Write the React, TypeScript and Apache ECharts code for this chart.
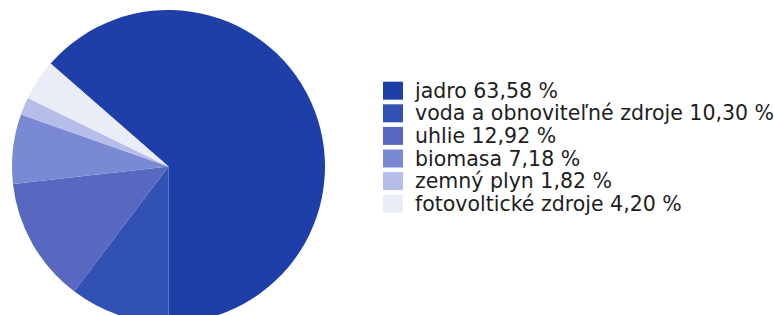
import React, { useEffect, useRef } from "react";
import * as echarts from "echarts";

const categories = [
  "jadro",
  "voda a obnoviteľné zdroje",
  "uhlie",
  "biomasa",
  "zemný plyn",
  "fotovoltické zdroje",
];
const shares = [63.58, 10.3, 12.92, 7.18, 1.82, 4.2];
const colors = ["#1e3fa8", "#3151b4", "#5867c0", "#7a89d4", "#b5bde9", "#eaecf8"];

export default function App() {
  const ref = useRef<HTMLDivElement>(null);
  useEffect(() => {
    if (!ref.current) return;
    const chart = echarts.init(ref.current, undefined, { renderer: "svg" });
    const valueMap: Record<string, number> = {};
    categories.forEach((c, i) => (valueMap[c] = shares[i]));
    chart.setOption({
      animation: false,
      backgroundColor: "#ffffff",
      color: colors,
      legend: {
        orient: "vertical",
        left: 383,
        top: 79.4,
        padding: 0,
        itemWidth: 20,
        itemHeight: 18,
        itemGap: 0,
        icon: "rect",
        data: categories,
        formatter: (name: string) =>
          `${name} ${valueMap[name].toFixed(2).replace(".", ",")} %`,
        textStyle: {
          fontFamily: "DejaVu Sans",
          fontSize: 20.5,
          lineHeight: 22.6,
          color: "#1e1e1e",
          padding: [0, 0, 0, 7],
        },
        selectedMode: false,
      },
      series: [
        {
          type: "pie",
          center: [168.5, 166.5],
          radius: [0, 156.5],
          startAngle: 138.89,
          clockwise: true,
          label: { show: false },
          labelLine: { show: false },
          silent: true,
          itemStyle: { borderWidth: 0 },
          data: categories.map((c, i) => ({ name: c, value: shares[i] })),
        },
      ],
    });
    return () => chart.dispose();
  }, []);
  return (
    <div
      ref={ref}
      style={{ position: "fixed", left: 0, top: 0, width: 774, height: 315 }}
    />
  );
}
